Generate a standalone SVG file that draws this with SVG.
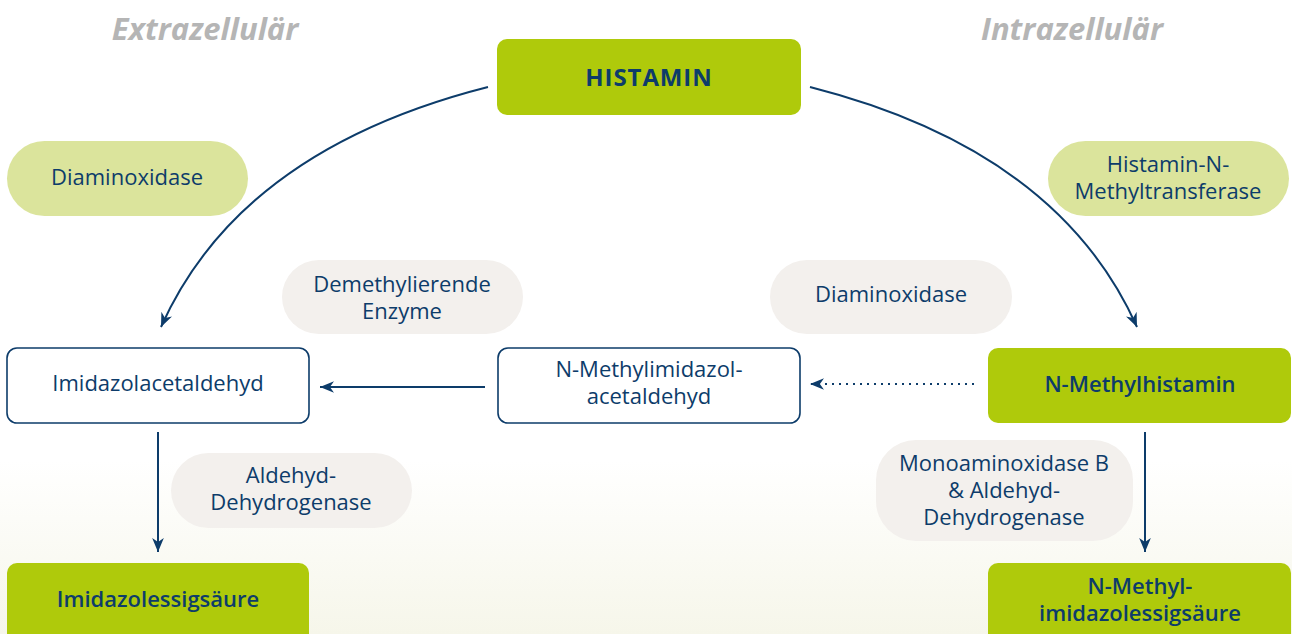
<svg xmlns="http://www.w3.org/2000/svg" width="1292" height="634" viewBox="0 0 1292 634">
  <defs>
    <linearGradient id="bg" x1="0" y1="0" x2="0" y2="1">
      <stop offset="0" stop-color="#ffffff"/>
      <stop offset="1" stop-color="#f6f6ea"/>
    </linearGradient>
    <marker id="arr" viewBox="0 0 12 10" refX="12" refY="5" markerWidth="14" markerHeight="12" markerUnits="userSpaceOnUse" orient="auto">
      <path d="M0,0 L12,5 L0,10 L3.5,5 Z" fill="#0d3c6a"/>
    </marker>
    <style>
      .hdr { font-family: "Open Sans", "Noto Sans", sans-serif; font-weight: 700; font-style: italic; font-size: 31px; fill: #b5b5b5; text-anchor: middle; }
      .t { font-family: "Open Sans", "Noto Sans", sans-serif; font-size: 22px; fill: #0d3c6a; text-anchor: middle; }
      .b { font-weight: 600; }
      .green { fill: #afca0b; }
      .pillg { fill: #dbe49c; }
      .pillb { fill: #f3f0ed; }
      .white { fill: #ffffff; stroke: #0d3c6a; stroke-width: 1.6; }
      .conn { fill: none; stroke: #0d3c6a; stroke-width: 2; }
    </style>
  </defs>
  <rect x="0" y="0" width="1292" height="634" fill="#ffffff"/>
  <rect x="0" y="460" width="1292" height="174" fill="url(#bg)"/>

  <text class="hdr" x="205" y="40">Extrazellulär</text>
  <text class="hdr" x="1072" y="40">Intrazellulär</text>

  <g id="connectors">
    <path class="conn" d="M488,87 Q240,150 161,327" marker-end="url(#arr)"/>
    <path class="conn" d="M810,87 Q1058,150 1137,327" marker-end="url(#arr)"/>
    <line class="conn" x1="485" y1="387" x2="320" y2="387" marker-end="url(#arr)"/>
    <line class="conn" x1="974" y1="384" x2="810" y2="384" stroke-dasharray="2,5" marker-end="url(#arr)"/>
    <line class="conn" x1="158" y1="432" x2="158" y2="552" marker-end="url(#arr)"/>
    <line class="conn" x1="1145" y1="432" x2="1145" y2="552" marker-end="url(#arr)"/>
  </g>

  <g id="histamin">
    <rect class="green" x="497" y="39" width="304" height="76" rx="10"/>
    <text class="t" x="649" y="86" style="font-weight:700;font-size:24px;letter-spacing:0.9px">HISTAMIN</text>
  </g>
  <g id="enzyme-dao-left">
    <rect class="pillg" x="7" y="141" width="241" height="75" rx="37.5"/>
    <text class="t" x="127" y="185">Diaminoxidase</text>
  </g>
  <g id="enzyme-hnmt">
    <rect class="pillg" x="1048" y="141" width="241" height="75" rx="37.5"/>
    <text class="t" x="1168" y="172">Histamin-N-</text>
    <text class="t" x="1168" y="199">Methyltransferase</text>
  </g>
  <g id="enzyme-demethyl">
    <rect class="pillb" x="282" y="260" width="241" height="74" rx="37"/>
    <text class="t" x="402" y="292">Demethylierende</text>
    <text class="t" x="402" y="319">Enzyme</text>
  </g>
  <g id="enzyme-dao-mid">
    <rect class="pillb" x="770" y="260" width="242" height="74" rx="37"/>
    <text class="t" x="891" y="302">Diaminoxidase</text>
  </g>
  <g id="imidazolacetaldehyd">
    <rect class="white" x="7" y="348" width="302" height="75" rx="10"/>
    <text class="t" x="158" y="391">Imidazolacetaldehyd</text>
  </g>
  <g id="n-methylimidazolacetaldehyd">
    <rect class="white" x="498" y="348" width="302" height="75" rx="10"/>
    <text class="t" x="649" y="377">N-Methylimidazol-</text>
    <text class="t" x="649" y="404">acetaldehyd</text>
  </g>
  <g id="n-methylhistamin">
    <rect class="green" x="988" y="348" width="303" height="75" rx="10"/>
    <text class="t b" x="1140" y="392">N-Methylhistamin</text>
  </g>
  <g id="enzyme-aldh">
    <rect class="pillb" x="171" y="453" width="241" height="75" rx="37.5"/>
    <text class="t" x="291" y="483">Aldehyd-</text>
    <text class="t" x="291" y="510">Dehydrogenase</text>
  </g>
  <g id="enzyme-mao">
    <rect class="pillb" x="876" y="440" width="257" height="101" rx="40"/>
    <text class="t" x="1004" y="471">Monoaminoxidase B</text>
    <text class="t" x="1004" y="498">&amp; Aldehyd-</text>
    <text class="t" x="1004" y="525">Dehydrogenase</text>
  </g>
  <g id="imidazolessigsaeure">
    <rect class="green" x="7" y="563" width="302" height="90" rx="10"/>
    <text class="t b" x="158" y="607">Imidazolessigsäure</text>
  </g>
  <g id="n-methylimidazolessigsaeure">
    <rect class="green" x="988" y="563" width="303" height="90" rx="10"/>
    <text class="t b" x="1140" y="594">N-Methyl-</text>
    <text class="t b" x="1140" y="621">imidazolessigsäure</text>
  </g>
</svg>
